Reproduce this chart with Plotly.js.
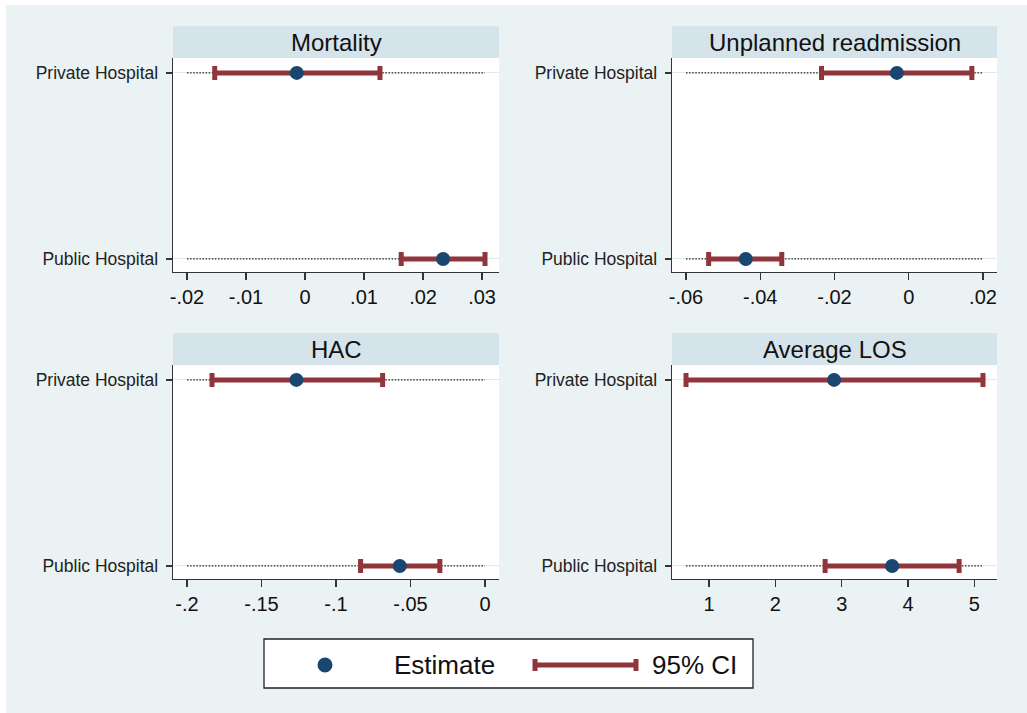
<!DOCTYPE html>
<html>
<head>
<meta charset="utf-8">
<script src="https://cdn.plot.ly/plotly-3.0.1.min.js"></script>
<style>html,body{margin:0;padding:0;background:#fff;}#chart{width:1027px;height:713px;}</style>
</head>
<body>
<div id="chart"></div>
<script>
// ---- data ----
var categories = ['Private Hospital', 'Public Hospital'];
var panelTitles = ['Mortality', 'Unplanned readmission', 'HAC', 'Average LOS'];

var mortalityEst = [-0.0014, 0.0234];
var mortalityLow = [-0.0153, 0.0163];
var mortalityHigh = [0.0127, 0.0305];

var readmEst = [-0.0032, -0.0439];
var readmLow = [-0.0235, -0.0539];
var readmHigh = [0.0170, -0.0342];

var hacEst = [-0.1266, -0.0572];
var hacLow = [-0.1832, -0.0835];
var hacHigh = [-0.0687, -0.0303];

var losEst = [2.885, 3.76];
var losLow = [0.653, 2.75];
var losHigh = [5.13, 4.77];

var ticks1 = [-0.02, -0.01, 0, 0.01, 0.02, 0.03];
var tickText1 = ['-.02', '-.01', '0', '.01', '.02', '.03'];
var ticks2 = [-0.06, -0.04, -0.02, 0, 0.02];
var tickText2 = ['-.06', '-.04', '-.02', '0', '.02'];
var ticks3 = [-0.2, -0.15, -0.1, -0.05, 0];
var tickText3 = ['-.2', '-.15', '-.1', '-.05', '0'];
var ticks4 = [1, 2, 3, 4, 5];
var tickText4 = ['1', '2', '3', '4', '5'];

var legendLabels = ['Estimate', '95% CI'];

// ---- styling / layout ----
var W = 1027, H = 713;
var FONT = 'Liberation Sans, Arial, sans-serif';
var estColor = '#1A476F';
var ciColor = '#90353B';
var bgColor = '#EAF2F3';
var stripColor = '#D5E3EA';

var panels = [
  {est: mortalityEst, lo: mortalityLow, hi: mortalityHigh, ticks: ticks1, tt: tickText1, px: [173, 499], py: [58, 272]},
  {est: readmEst, lo: readmLow, hi: readmHigh, ticks: ticks2, tt: tickText2, px: [672, 997], py: [58, 272]},
  {est: hacEst, lo: hacLow, hi: hacHigh, ticks: ticks3, tt: tickText3, px: [173, 499], py: [365, 579]},
  {est: losEst, lo: losLow, hi: losHigh, ticks: ticks4, tt: tickText4, px: [672, 997], py: [365, 579]}
];

function fx(p) { return p / W; }
function fy(p) { return 1 - p / H; }

var traces = [];
var layout = {
  width: W, height: H,
  margin: {l: 0, r: 0, t: 0, b: 0},
  paper_bgcolor: bgColor,
  plot_bgcolor: '#FFFFFF',
  showlegend: false,
  font: {family: FONT, color: '#111'},
  shapes: [],
  annotations: []
};

// white outer margin at left/top
layout.shapes.push({type: 'rect', xref: 'paper', yref: 'paper', x0: 0, x1: fx(6), y0: 0, y1: 1, fillcolor: '#FFFFFF', line: {width: 0}});
layout.shapes.push({type: 'rect', xref: 'paper', yref: 'paper', x0: 0, x1: 1, y0: fy(5), y1: 1, fillcolor: '#FFFFFF', line: {width: 0}});

panels.forEach(function (p, i) {
  var n = i + 1;
  var xa = 'x' + (n === 1 ? '' : n), ya = 'y' + (n === 1 ? '' : n);
  var xKey = 'xaxis' + (n === 1 ? '' : n), yKey = 'yaxis' + (n === 1 ? '' : n);

  var lo = Math.min(p.ticks[0], Math.min.apply(null, p.lo));
  var hi = Math.max(p.ticks[p.ticks.length - 1], Math.max.apply(null, p.hi));
  var widthPx = p.px[1] - p.px[0];
  var pad = 14;
  var scale = (hi - lo) / (widthPx - 2 * pad);
  var range = [lo - pad * scale, hi + pad * scale];

  // dotted reference lines across the scale range
  categories.forEach(function (c) {
    traces.push({
      type: 'scatter', mode: 'lines', x: [lo, hi], y: [c, c], xaxis: xa, yaxis: ya,
      line: {color: '#222222', width: 1.3, dash: '1.5px,1.6px'}, hoverinfo: 'skip'
    });
  });

  traces.push({
    type: 'scatter', mode: 'markers', x: p.est, y: categories, xaxis: xa, yaxis: ya,
    marker: {color: estColor, size: 14, line: {width: 0}},
    error_x: {
      type: 'data', symmetric: false,
      array: p.hi.map(function (h, k) { return h - p.est[k]; }),
      arrayminus: p.lo.map(function (l, k) { return p.est[k] - l; }),
      color: ciColor, thickness: 5, width: 7
    }
  });

  layout[xKey] = {
    domain: [fx(p.px[0]), fx(p.px[1])], anchor: ya, range: range,
    tickvals: p.ticks, ticktext: p.tt, ticks: 'outside', ticklen: 7, tickwidth: 1.3, tickcolor: '#333',
    showline: true, linecolor: '#333', linewidth: 1.3, showgrid: false, zeroline: false,
    tickfont: {size: 20, color: '#111', family: FONT}
  };
  layout[yKey] = {
    domain: [fy(p.py[1]), fy(p.py[0])], anchor: xa, type: 'category',
    categoryorder: 'array', categoryarray: ['Public Hospital', 'Private Hospital'],
    range: [-0.07, 1.08],
    ticks: 'outside', ticklen: 6, tickwidth: 1.3, tickcolor: '#333',
    ticklabelstandoff: 4,
    showline: true, linecolor: '#333', linewidth: 1.3,
    showgrid: true, gridcolor: '#DDEAEF', gridwidth: 1, zeroline: false,
    tickfont: {size: 17.5, color: '#222', family: FONT}
  };

  // header strip
  var hTop = p.py[0] - 32;
  layout.shapes.push({type: 'rect', xref: 'paper', yref: 'paper', x0: fx(p.px[0]), x1: fx(p.px[1]), y0: fy(p.py[0]), y1: fy(hTop), fillcolor: stripColor, line: {width: 0}});
  layout.annotations.push({xref: 'paper', yref: 'paper', x: fx((p.px[0] + p.px[1]) / 2), y: fy((hTop + p.py[0]) / 2), text: panelTitles[i], showarrow: false, xanchor: 'center', yanchor: 'middle', font: {size: 24, color: '#111', family: FONT}});
});

// legend box (manual)
layout.shapes.push({type: 'rect', xref: 'paper', yref: 'paper', x0: fx(264), x1: fx(753), y0: fy(688), y1: fy(639), fillcolor: '#FFFFFF', line: {color: '#222', width: 1.3}});
layout.shapes.push({type: 'circle', xref: 'paper', yref: 'paper', x0: fx(317.5), x1: fx(332.5), y0: fy(672.5), y1: fy(657.5), fillcolor: estColor, line: {width: 0}});
layout.shapes.push({type: 'line', xref: 'paper', yref: 'paper', x0: fx(535), x1: fx(636), y0: fy(665), y1: fy(665), line: {color: ciColor, width: 5}});
layout.shapes.push({type: 'line', xref: 'paper', yref: 'paper', x0: fx(535), x1: fx(535), y0: fy(659), y1: fy(671), line: {color: ciColor, width: 5}});
layout.shapes.push({type: 'line', xref: 'paper', yref: 'paper', x0: fx(636), x1: fx(636), y0: fy(659), y1: fy(671), line: {color: ciColor, width: 5}});
layout.annotations.push({xref: 'paper', yref: 'paper', x: fx(444), y: fy(665), text: legendLabels[0], showarrow: false, xanchor: 'center', yanchor: 'middle', font: {size: 26, color: '#111', family: FONT}});
layout.annotations.push({xref: 'paper', yref: 'paper', x: fx(694), y: fy(665), text: legendLabels[1], showarrow: false, xanchor: 'center', yanchor: 'middle', font: {size: 26, color: '#111', family: FONT}});

Plotly.newPlot('chart', traces, layout, {displayModeBar: false, staticPlot: true});
</script>
</body>
</html>
